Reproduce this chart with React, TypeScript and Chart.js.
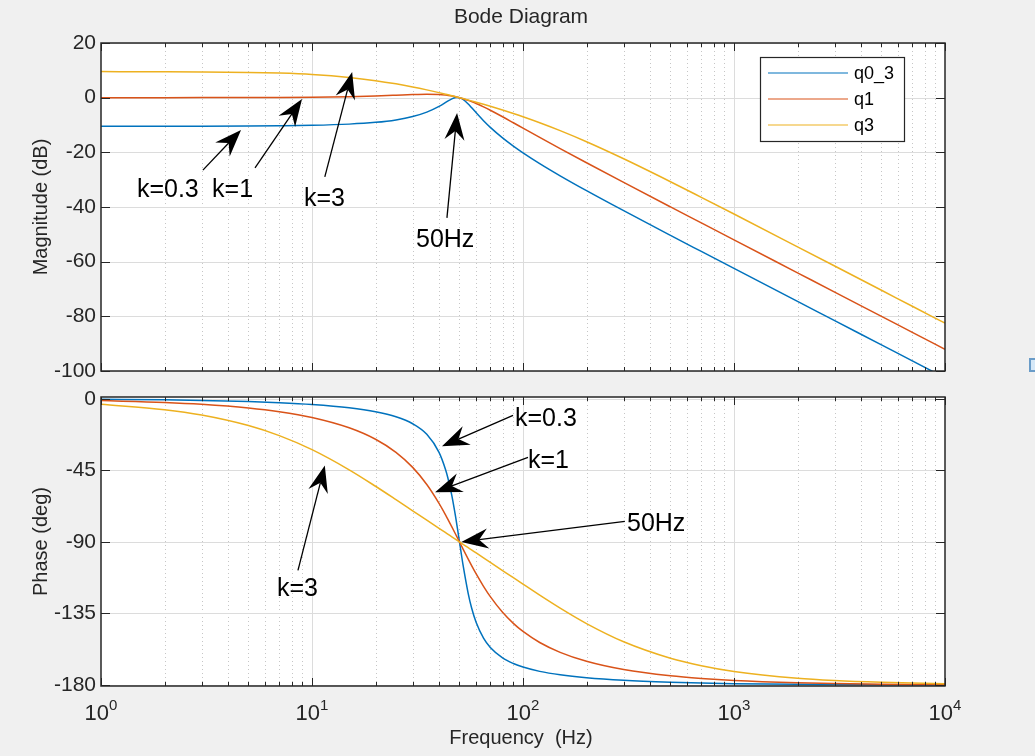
import React, { useEffect, useRef } from 'react';
import { Chart, registerables } from 'chart.js';

Chart.register(...registerables);

// ---------------- data ----------------
const freqHz = [1, 2, 3, 5, 7, 10, 15, 20, 25, 30, 35, 40, 43, 44, 46, 48, 49, 50, 51, 52, 55, 57, 60, 65, 70, 80, 90, 100, 120, 150, 200, 300, 500, 700, 1000, 2000, 3000, 5000, 7000, 10000];

const magQ03 = [-10.45, -10.44, -10.43, -10.38, -10.29, -10.12, -9.68, -9.03, -8.13, -6.91, -5.29, -3.18, -1.74, -1.27, -0.45, 0.04, 0.1, 0.0, -0.25, -0.63, -2.31, -3.61, -5.55, -8.44, -10.86, -14.71, -17.71, -20.17, -24.11, -28.58, -34.01, -41.35, -50.38, -56.26, -62.48, -74.54, -81.58, -90.46, -96.3, -102.5];
const magQ1 = [0.0, 0.01, 0.02, 0.04, 0.08, 0.17, 0.37, 0.63, 0.9, 1.14, 1.25, 1.14, 0.93, 0.83, 0.61, 0.33, 0.17, 0.0, -0.18, -0.37, -0.98, -1.43, -2.13, -3.36, -4.6, -6.98, -9.17, -11.14, -14.54, -18.63, -23.82, -31.01, -39.96, -45.82, -52.03, -64.08, -71.13, -80.0, -85.85, -92.04];
const magQ3 = [9.53, 9.49, 9.43, 9.25, 8.98, 8.47, 7.4, 6.23, 5.05, 3.92, 2.85, 1.84, 1.27, 1.08, 0.71, 0.35, 0.17, 0.0, -0.17, -0.34, -0.85, -1.17, -1.65, -2.41, -3.14, -4.52, -5.8, -6.99, -9.18, -12.07, -16.13, -22.36, -30.75, -36.46, -42.57, -54.56, -61.59, -70.46, -76.31, -82.5];

const phaseQ03 = [-0.34, -0.69, -1.03, -1.74, -2.45, -3.58, -5.65, -8.13, -11.31, -15.71, -22.38, -33.69, -44.74, -49.48, -60.9, -74.77, -82.33, -90, -97.52, -104.66, -122.47, -131.22, -140.71, -150.52, -156.37, -162.9, -166.45, -168.69, -171.4, -173.58, -175.43, -177.06, -178.26, -178.77, -179.14, -179.57, -179.71, -179.83, -179.88, -179.91];
const phaseQ1 = [-1.15, -2.29, -3.45, -5.77, -8.13, -11.77, -18.25, -25.46, -33.69, -43.15, -53.92, -65.77, -73.15, -75.62, -80.52, -85.33, -87.69, -90, -92.27, -94.49, -100.81, -104.73, -110.14, -117.95, -124.44, -134.27, -141.22, -146.31, -153.24, -159.44, -165.07, -170.27, -174.23, -175.89, -177.13, -178.57, -179.05, -179.43, -179.59, -179.71];
const phaseQ3 = [-3.44, -6.85, -10.24, -16.86, -23.19, -32.01, -44.68, -55.01, -63.43, -70.43, -76.35, -81.47, -84.24, -85.12, -86.81, -88.44, -89.23, -90, -90.76, -91.5, -93.64, -95.0, -96.97, -100.03, -102.87, -108.0, -112.53, -116.57, -123.47, -131.63, -141.34, -152.78, -163.14, -167.84, -171.45, -175.71, -177.14, -178.28, -178.77, -179.14];

const seriesLabels = ['q0_3', 'q1', 'q3'];
const seriesColors = ['#0072BD', '#D95319', '#EDB120'];

const magTicks = [20, 0, -20, -40, -60, -80, -100];
const phaseTicks = [0, -45, -90, -135, -180];
const decadeTicks = [1, 10, 100, 1000, 10000];
const decadeExponents = ['0', '1', '2', '3', '4'];
const minorMultipliers = [2, 3, 4, 5, 6, 7, 8, 9];

// annotations: text anchor (left, baseline), arrow tail, arrow head (data coords)
const magNotes = [
  { text: 'k=0.3', tx: 1.48, ty: -36.3, fx: 3.04, fy: -26.5, hx: 4.61, hy: -11.8 },
  { text: 'k=1', tx: 3.36, ty: -36.3, fx: 5.37, fy: -25.7, hx: 8.97, hy: -0.5 },
  { text: 'k=3', tx: 9.16, ty: -39.6, fx: 11.5, fy: -29.0, hx: 15.5, hy: 9.4 },
  { text: '50Hz', tx: 31.1, ty: -54.6, fx: 43.6, fy: -44.0, hx: 48.7, hy: -5.6 },
];
const phaseNotes = [
  { text: 'k=0.3', tx: 91.6, ty: -17.3, fx: 89.7, fy: -10.4, hx: 41.3, hy: -29.9 },
  { text: 'k=1', tx: 105.6, ty: -43.7, fx: 105.6, fy: -36.8, hx: 38.3, hy: -58.8 },
  { text: '50Hz', tx: 311, ty: -83.4, fx: 304, fy: -77.1, hx: 51, hy: -90 },
  { text: 'k=3', tx: 6.82, ty: -124.3, fx: 8.58, fy: -107.9, hx: 11.5, hy: -41.9 },
];

// ---------------- drawing helpers ----------------
const W = 1035;
const H = 756;
const FONT = '"Liberation Sans", Arial, Helvetica, sans-serif';
const AXIS = '#262626';

function minorFreqs(): number[] {
  const out: number[] = [];
  for (let d = 0; d < decadeTicks.length - 1; d++) {
    for (const m of minorMultipliers) out.push(decadeTicks[d] * m);
  }
  return out;
}

function drawArrow(ctx: CanvasRenderingContext2D, x0: number, y0: number, x1: number, y1: number) {
  const ang = Math.atan2(y1 - y0, x1 - x0);
  const c = Math.cos(ang);
  const s = Math.sin(ang);
  const L = 27;
  const hw = 10;
  const notch = 18;
  ctx.save();
  ctx.strokeStyle = '#000';
  ctx.fillStyle = '#000';
  ctx.lineWidth = 1.3;
  ctx.beginPath();
  ctx.moveTo(x0, y0);
  ctx.lineTo(x1 - notch * c, y1 - notch * s);
  ctx.stroke();
  ctx.beginPath();
  ctx.moveTo(x1, y1);
  ctx.lineTo(x1 - L * c - hw * s, y1 - L * s + hw * c);
  ctx.lineTo(x1 - notch * c, y1 - notch * s);
  ctx.lineTo(x1 - L * c + hw * s, y1 - L * s - hw * c);
  ctx.closePath();
  ctx.fill();
  ctx.restore();
}

function makeBodePlugin(kind: 'mag' | 'phase') {
  const yTicks = kind === 'mag' ? magTicks : phaseTicks;
  const notes = kind === 'mag' ? magNotes : phaseNotes;
  return {
    id: 'bode_' + kind,
    beforeDraw(chart: any) {
      const { ctx, chartArea: a } = chart;
      const xs = chart.scales.x;
      const ys = chart.scales.y;
      ctx.save();
      ctx.fillStyle = '#ffffff';
      ctx.fillRect(a.left, a.top, a.right - a.left, a.bottom - a.top);
      // minor dotted grid
      ctx.strokeStyle = '#c6c6c6';
      ctx.lineWidth = 1;
      ctx.setLineDash([1, 3]);
      for (const f of minorFreqs()) {
        const px = Math.round(xs.getPixelForValue(f)) + 0.5;
        ctx.beginPath();
        ctx.moveTo(px, a.top);
        ctx.lineTo(px, a.bottom);
        ctx.stroke();
      }
      ctx.setLineDash([]);
      ctx.strokeStyle = '#dcdcdc';
      for (const f of decadeTicks.slice(1, -1)) {
        const px = Math.round(xs.getPixelForValue(f)) + 0.5;
        ctx.beginPath();
        ctx.moveTo(px, a.top);
        ctx.lineTo(px, a.bottom);
        ctx.stroke();
      }
      for (const v of yTicks) {
        const py = Math.round(ys.getPixelForValue(v)) + 0.5;
        ctx.beginPath();
        ctx.moveTo(a.left, py);
        ctx.lineTo(a.right, py);
        ctx.stroke();
      }
      ctx.restore();
    },
    afterDatasetsDraw(chart: any) {
      const { ctx, chartArea: a } = chart;
      const xs = chart.scales.x;
      const ys = chart.scales.y;
      ctx.save();
      // ticks (inward)
      ctx.strokeStyle = AXIS;
      ctx.lineWidth = 1;
      for (const f of decadeTicks) {
        const px = Math.round(xs.getPixelForValue(f)) + 0.5;
        ctx.beginPath();
        ctx.moveTo(px, a.bottom);
        ctx.lineTo(px, a.bottom - 8);
        ctx.moveTo(px, a.top);
        ctx.lineTo(px, a.top + 8);
        ctx.stroke();
      }
      for (const f of minorFreqs()) {
        const px = Math.round(xs.getPixelForValue(f)) + 0.5;
        ctx.beginPath();
        ctx.moveTo(px, a.bottom);
        ctx.lineTo(px, a.bottom - 4);
        ctx.moveTo(px, a.top);
        ctx.lineTo(px, a.top + 4);
        ctx.stroke();
      }
      for (const v of yTicks) {
        const py = Math.round(ys.getPixelForValue(v)) + 0.5;
        ctx.beginPath();
        ctx.moveTo(a.left, py);
        ctx.lineTo(a.left + 9, py);
        ctx.moveTo(a.right, py);
        ctx.lineTo(a.right - 9, py);
        ctx.stroke();
      }
      // box
      ctx.lineWidth = 1.5;
      ctx.strokeRect(Math.round(a.left), Math.round(a.top), Math.round(a.right - a.left), Math.round(a.bottom - a.top));

      // annotations
      for (const n of notes) {
        drawArrow(ctx, xs.getPixelForValue(n.fx), ys.getPixelForValue(n.fy), xs.getPixelForValue(n.hx), ys.getPixelForValue(n.hy));
        ctx.fillStyle = '#000';
        ctx.font = '25px ' + FONT;
        ctx.textAlign = 'left';
        ctx.textBaseline = 'alphabetic';
        ctx.fillText(n.text, xs.getPixelForValue(n.tx), ys.getPixelForValue(n.ty));
      }

      // y axis title
      const cy = (a.top + a.bottom) / 2;
      ctx.save();
      ctx.translate(41, cy);
      ctx.rotate(-Math.PI / 2);
      ctx.fillStyle = AXIS;
      ctx.font = '20px ' + FONT;
      ctx.textAlign = 'center';
      ctx.textBaseline = 'middle';
      ctx.fillText(kind === 'mag' ? 'Magnitude (dB)' : 'Phase (deg)', 0, 0);
      ctx.restore();

      const cx = (a.left + a.right) / 2;
      if (kind === 'mag') {
        // title
        ctx.fillStyle = AXIS;
        ctx.font = '21px ' + FONT;
        ctx.textAlign = 'center';
        ctx.textBaseline = 'alphabetic';
        ctx.fillText('Bode Diagram', cx - 2, 23);
        // legend
        const lx = a.right - 185;
        const ly = a.top + 14;
        ctx.fillStyle = '#ffffff';
        ctx.fillRect(lx, ly, 144, 84);
        ctx.strokeStyle = AXIS;
        ctx.lineWidth = 1.2;
        ctx.strokeRect(lx + 0.5, ly + 0.5, 144, 84);
        chart.data.datasets.forEach((ds: any, i: number) => {
          const yy = ly + 16 + i * 26;
          ctx.strokeStyle = ds.borderColor;
          ctx.lineWidth = 1.2;
          ctx.beginPath();
          ctx.moveTo(lx + 8, yy);
          ctx.lineTo(lx + 88, yy);
          ctx.stroke();
          ctx.fillStyle = '#000';
          ctx.font = '18px ' + FONT;
          ctx.textAlign = 'left';
          ctx.textBaseline = 'middle';
          ctx.fillText(ds.label, lx + 94, yy + 1);
        });
      } else {
        // x tick labels 10^n
        decadeTicks.forEach((f, i) => {
          const px = xs.getPixelForValue(f);
          ctx.fillStyle = AXIS;
          ctx.textBaseline = 'alphabetic';
          ctx.textAlign = 'left';
          ctx.font = '22px ' + FONT;
          const wb = ctx.measureText('10').width;
          ctx.font = '15px ' + FONT;
          const we = ctx.measureText(decadeExponents[i]).width;
          const x0 = px - (wb + we) / 2;
          ctx.font = '22px ' + FONT;
          ctx.fillText('10', x0, a.bottom + 34);
          ctx.font = '15px ' + FONT;
          ctx.fillText(decadeExponents[i], x0 + wb, a.bottom + 24);
        });
        ctx.font = '20px ' + FONT;
        ctx.textAlign = 'center';
        ctx.textBaseline = 'alphabetic';
        ctx.fillText('Frequency  (Hz)', cx - 2, a.bottom + 58);
      }
      ctx.restore();
    },
  };
}

function buildConfig(kind: 'mag' | 'phase') {
  const values = kind === 'mag' ? [magQ03, magQ1, magQ3] : [phaseQ03, phaseQ1, phaseQ3];
  const yTicks = kind === 'mag' ? magTicks : phaseTicks;
  return {
    type: 'line' as const,
    data: {
      datasets: values.map((vals, i) => ({
        label: seriesLabels[i],
        data: freqHz.map((f, j) => ({ x: f, y: vals[j] })),
        borderColor: seriesColors[i],
        backgroundColor: seriesColors[i],
        borderWidth: 1.5,
        pointRadius: 0,
        fill: false,
        cubicInterpolationMode: 'monotone' as const,
        clip: 0,
        order: 2 - i,
      })),
    },
    options: {
      responsive: false,
      animation: false as const,
      events: [] as any[],
      layout: {
        padding: kind === 'mag'
          ? { left: 0, right: 90, top: 43, bottom: H - 371 }
          : { left: 0, right: 90, top: 397, bottom: H - 686 },
      },
      plugins: {
        legend: { display: false },
        title: { display: false },
        tooltip: { enabled: false },
      },
      scales: {
        x: { type: 'logarithmic' as const, min: 1, max: 10000, display: false },
        y: {
          type: 'linear' as const,
          position: 'left' as const,
          min: kind === 'mag' ? -100 : -180.6,
          max: kind === 'mag' ? 20 : 1.1,
          afterBuildTicks: (s: any) => {
            s.ticks = yTicks.map((v) => ({ value: v }));
          },
          afterFit: (s: any) => {
            s.width = 101;
          },
          grid: { display: false, drawTicks: false },
          border: { display: false },
          ticks: {
            autoSkip: false,
            maxRotation: 0,
            padding: 5,
            color: AXIS,
            font: { family: FONT, size: 21 },
            callback: (v: any) => String(v),
          },
        },
      },
    },
    plugins: [makeBodePlugin(kind)],
  };
}

export default function App() {
  const magRef = useRef<HTMLCanvasElement | null>(null);
  const phaseRef = useRef<HTMLCanvasElement | null>(null);

  useEffect(() => {
    document.body.style.margin = '0';
    const charts: Chart[] = [];
    if (magRef.current) charts.push(new Chart(magRef.current, buildConfig('mag') as any));
    if (phaseRef.current) charts.push(new Chart(phaseRef.current, buildConfig('phase') as any));
    return () => {
      charts.forEach((c) => c.destroy());
    };
  }, []);

  return (
    <div
      style={{
        position: 'absolute',
        left: 0,
        top: 0,
        width: W,
        height: H,
        overflow: 'hidden',
        background: '#f0f0f0',
      }}
    >
      <canvas ref={magRef} width={W} height={H} style={{ position: 'absolute', left: 0, top: 0 }} />
      <canvas ref={phaseRef} width={W} height={H} style={{ position: 'absolute', left: 0, top: 0 }} />
      <div
        style={{
          position: 'absolute',
          left: 1029,
          top: 358,
          width: 10,
          height: 10,
          border: '2px solid #6a9cc8',
          background: '#d6e8f7',
        }}
      />
    </div>
  );
}
